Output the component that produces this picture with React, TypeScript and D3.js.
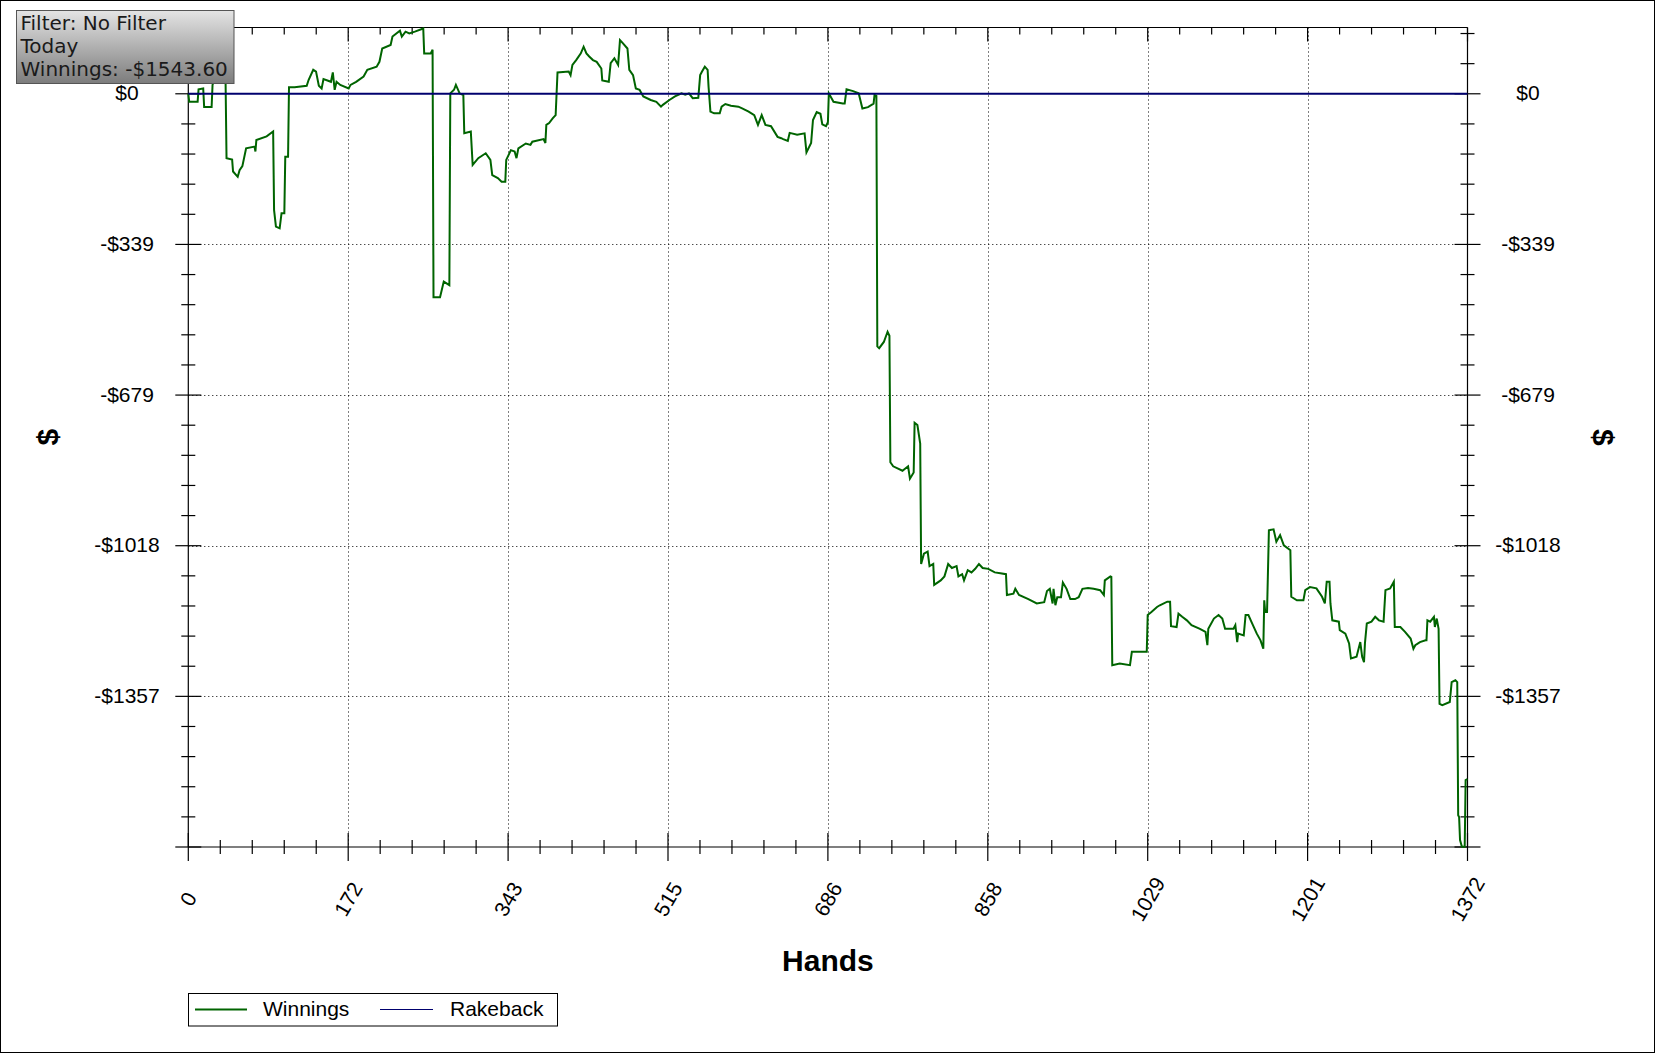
import React from "react";
import * as d3 from "d3";

// ---- data (hand index, cumulative winnings $) ----
const hands: number[] = [
  0, 1, 10, 11, 16, 17, 25, 26, 28, 38, 40, 41, 47, 48, 53, 55, 58, 62, 71, 72, 73, 84, 91, 92, 94, 98, 100, 103, 104, 107,
  108, 114, 127, 129, 134, 137, 140, 143, 145, 153, 155, 157, 159, 163, 172, 174, 180, 188, 192, 202, 205, 208, 217, 219, 227, 229, 233, 237, 243, 252,
  253, 260, 262, 263, 270, 274, 280, 281, 285, 287, 291, 295, 296, 303, 305, 311, 319, 324, 326, 332, 336, 340, 341, 346, 350, 352, 354, 362, 367, 369,
  381, 383, 384, 387, 391, 394, 396, 408, 410, 412, 416, 421, 424, 427, 430, 434, 438, 443, 444, 451, 453, 457, 461, 463, 466, 471, 473, 477, 480, 484,
  488, 496, 502, 507, 509, 516, 522, 529, 533, 537, 541, 547, 549, 551, 554, 557, 558, 560, 564, 570, 572, 576, 582, 590, 594, 601, 607, 611, 615, 619,
  625, 632, 636, 638, 643, 645, 653, 661, 663, 668, 670, 674, 678, 680, 684, 686, 687, 692, 702, 704, 706, 713, 719, 723, 729, 735, 736, 738, 739, 741,
  746, 750, 752, 753, 756, 766, 772, 774, 778, 779, 782, 785, 786, 789, 793, 795, 799, 800, 807, 811, 815, 819, 824, 826, 830, 832, 836, 840, 844, 848,
  852, 858, 865, 871, 877, 878, 885, 887, 891, 901, 910, 918, 921, 924, 927, 928, 930, 932, 936, 938, 942, 946, 951, 955, 959, 965, 971, 978, 982, 983,
  989, 990, 991, 999, 1010, 1012, 1028, 1029, 1033, 1039, 1042, 1050, 1053, 1054, 1060, 1062, 1066, 1071, 1076, 1085, 1091, 1093, 1094, 1100, 1105, 1109, 1112, 1121, 1123, 1125,
  1126, 1132, 1134, 1137, 1141, 1146, 1150, 1153, 1154, 1155, 1157, 1159, 1164, 1167, 1171, 1175, 1182, 1183, 1189, 1196, 1198, 1203, 1210, 1216, 1219, 1221, 1224, 1225, 1227, 1234,
  1235, 1241, 1245, 1247, 1253, 1257, 1259, 1261, 1262, 1264, 1269, 1273, 1277, 1282, 1284, 1289, 1293, 1294, 1300, 1305, 1311, 1314, 1316, 1321, 1327, 1328, 1329, 1332, 1336, 1337,
  1339, 1341, 1342, 1345, 1353, 1355, 1359, 1361, 1362, 1363, 1364, 1366, 1369, 1370, 1372,
];

const winnings: number[] = [
  0, -18, -18, 10, 12, -30, -30, 20, 33, 30, 24, -145, -148, -175, -187, -172, -163, -123, -119, -130, -104, -96, -85, -262, -299, -303, -269, -269, -142, -142,
  15, 15, 18, 31, 54, 50, 18, 12, 33, 27, 48, 9, 27, 20, 12, 20, 27, 39, 54, 61, 72, 102, 110, 129, 142, 129, 140, 136, 140, 147,
  91, 91, 99, -458, -458, -423, -431, 1, 9, 20, 1, -3, -89, -85, -160, -145, -134, -149, -183, -190, -198, -198, -149, -127, -130, -145, -123, -112, -115, -108,
  -102, -111, -70, -66, -55, -48, 48, 50, 42, 65, 76, 91, 106, 91, 84, 76, 72, 57, 30, 27, 69, 80, 65, 121, 114, 102, 54, 42, 12, 9,
  -6, -14, -18, -29, -25, -14, -6, 1, -2, 1, -10, -9, 42, 50, 61, 54, 16, -40, -44, -44, -29, -23, -27, -29, -33, -40, -48, -70, -48, -70,
  -73, -97, -100, -102, -106, -88, -92, -89, -132, -111, -59, -41, -45, -69, -73, -64, 1, -18, -22, -22, 10, 6, 1, -33, -30, -22, -3, -5, -569, -573,
  -559, -536, -545, -830, -839, -849, -839, -867, -853, -741, -746, -788, -1059, -1036, -1031, -1064, -1059, -1106, -1096, -1087, -1059, -1068, -1064, -1087, -1082, -1096, -1073, -1078, -1070, -1059,
  -1068, -1070, -1078, -1080, -1082, -1129, -1126, -1115, -1129, -1138, -1148, -1145, -1120, -1115, -1148, -1115, -1152, -1134, -1134, -1101, -1115, -1138, -1138, -1134, -1115, -1113, -1115, -1118, -1129, -1096,
  -1087, -1088, -1287, -1283, -1287, -1257, -1257, -1174, -1167, -1156, -1152, -1144, -1144, -1199, -1201, -1171, -1178, -1186, -1197, -1205, -1212, -1242, -1205, -1182, -1174, -1182, -1205, -1205, -1197, -1235,
  -1216, -1220, -1174, -1174, -1193, -1216, -1231, -1250, -1141, -1167, -1167, -983, -981, -1009, -994, -1017, -1028, -1133, -1141, -1141, -1118, -1111, -1114, -1133, -1148, -1099, -1099, -1148, -1186, -1189,
  -1208, -1216, -1238, -1272, -1268, -1235, -1268, -1280, -1238, -1193, -1189, -1178, -1186, -1189, -1118, -1114, -1099, -1201, -1201, -1212, -1227, -1250, -1242, -1235, -1231, -1231, -1186, -1189, -1178, -1201,
  -1182, -1205, -1374, -1377, -1370, -1325, -1321, -1325, -1625, -1629, -1681, -1696, -1696, -1546, -1543.6,
];

const rakebackHands: number[] = [0, 1372];
const rakebackValues: number[] = [0, 0];

const xTickValues: number[] = [0, 171.5, 343, 514.5, 686, 857.5, 1029, 1200.5, 1372];
const yTickValues: number[] = [0, -339.3, -678.6, -1017.9, -1357.2];
const infoLines: string[] = ["Filter: No Filter", "Today", "Winnings: -$1543.60"];
const legendNames: string[] = ["Winnings", "Rakeback"];

const W = 1655;
const H = 1053;
const PL = 188.3;
const PR = 1467.5;
const PT = 27.5;
const PB = 847;
const Y_MIN = -1696.5;
const Y_MAX = 149.3;

const GREEN = "#006400";
const NAVY = "#00006e";
const SANS = "'Liberation Sans', Arial, sans-serif";

export default function App() {
  const x = d3.scaleLinear().domain([0, 1372]).range([PL, PR]);
  const y = d3.scaleLinear().domain([Y_MIN, Y_MAX]).range([PB, PT]);

  const winData = hands.map((h, i) => [h, winnings[i]] as [number, number]);
  const rbData = rakebackHands.map((h, i) => [h, rakebackValues[i]] as [number, number]);
  const line = d3
    .line<[number, number]>()
    .x((d) => x(d[0]))
    .y((d) => y(d[1]));

  const xStep = 171.5;
  const xMinor: number[] = d3.range(0, 1372 + 0.01, xStep / 5);
  const yStep = 339.3;
  const yMinor: number[] = [];
  for (let v = Y_MIN; v <= Y_MAX + 0.01; v += yStep / 5) yMinor.push(v);

  const isMajorX = (v: number) => Math.abs(v / xStep - Math.round(v / xStep)) < 1e-6;
  const isMajorY = (v: number) => Math.abs((v - Y_MIN) / yStep - Math.round((v - Y_MIN) / yStep)) < 1e-6;

  const fmtY = (v: number) => (v < -0.5 ? "-$" : "$") + Math.round(Math.abs(v));

  return (
    <svg
      width={W}
      height={H}
      style={{ position: "absolute", left: 0, top: 0, background: "#fff" }}
    >
      <defs>
        <linearGradient id="boxGrad" x1="0" y1="0" x2="0" y2="1">
          <stop offset="0" stopColor="#e4e4e4" />
          <stop offset="1" stopColor="#7c7c7c" />
        </linearGradient>
      </defs>
      <rect x={0} y={0} width={W} height={H} fill="#fff" />
      <rect x={0.5} y={0.5} width={W - 1} height={H - 1} fill="none" stroke="#000" strokeWidth={1} />

      {/* grid */}
      <g stroke="#000" strokeWidth={1} strokeDasharray="1,3">
        {xTickValues.slice(1, -1).map((v, i) => (
          <line key={"gx" + i} x1={Math.round(x(v)) + 0.5} x2={Math.round(x(v)) + 0.5} y1={PT} y2={PB} />
        ))}
        {yTickValues.slice(1).map((v, i) => (
          <line key={"gy" + i} x1={PL} x2={PR} y1={Math.round(y(v)) + 0.5} y2={Math.round(y(v)) + 0.5} />
        ))}
      </g>

      {/* axes frame */}
      <g stroke="#000" strokeWidth={1.2} fill="none">
        <line x1={PL} x2={PR} y1={PB} y2={PB} />
        <line x1={PL} x2={PR} y1={PT} y2={PT} />
        <line x1={PL} x2={PL} y1={PT} y2={PB} />
        <line x1={PR} x2={PR} y1={PT} y2={PB} />
      </g>

      {/* ticks */}
      <g stroke="#000" strokeWidth={1.2}>
        {xMinor.map((v, i) => {
          const major = isMajorX(v);
          const px = x(v);
          const len = major ? 14 : 7;
          return (
            <g key={"xt" + i}>
              <line x1={px} x2={px} y1={PB - len} y2={PB + len} />
              <line x1={px} x2={px} y1={PT} y2={PT + len} />
            </g>
          );
        })}
        {yMinor.map((v, i) => {
          const major = isMajorY(v);
          const py = y(v);
          const len = major ? 13 : 7;
          return (
            <g key={"yt" + i}>
              <line x1={PL - len} x2={PL + len} y1={py} y2={py} />
              <line x1={PR - len} x2={PR + len} y1={py} y2={py} />
            </g>
          );
        })}
      </g>

      {/* series */}
      <path d={line(winData) || ""} fill="none" stroke={GREEN} strokeWidth={2} strokeLinejoin="miter" />
      <path d={line(rbData) || ""} fill="none" stroke={NAVY} strokeWidth={2} />

      {/* y labels */}
      <g fontFamily={SANS} fontSize={21} fill="#000" textAnchor="middle">
        {yTickValues.map((v, i) => (
          <g key={"yl" + i}>
            <text x={127} y={y(v) - 1} dominantBaseline="central">
              {fmtY(v)}
            </text>
            <text x={1528} y={y(v) - 1} dominantBaseline="central">
              {fmtY(v)}
            </text>
          </g>
        ))}
      </g>

      {/* x labels */}
      <g fontFamily={SANS} fontSize={21} fill="#000" textAnchor="middle">
        {xTickValues.map((v, i) => (
          <text
            key={"xl" + i}
            transform={`translate(${x(v)},${899}) rotate(-60)`}
            dominantBaseline="central"
          >
            {Math.round(v)}
          </text>
        ))}
      </g>

      {/* axis titles */}
      <text x={(PL + PR) / 2} y={971} textAnchor="middle" fontFamily={SANS} fontWeight="bold" fontSize={30}>
        Hands
      </text>
      <text
        transform={`translate(47,${(PT + PB) / 2}) rotate(-90)`}
        textAnchor="middle"
        dominantBaseline="central"
        fontFamily={SANS}
        fontWeight="bold"
        fontSize={30}
      >
        $
      </text>
      <text
        transform={`translate(1603,${(PT + PB) / 2}) rotate(90)`}
        textAnchor="middle"
        dominantBaseline="central"
        fontFamily={SANS}
        fontWeight="bold"
        fontSize={30}
      >
        $
      </text>

      {/* info box */}
      <rect x={16.5} y={10.5} width={217.5} height={73} fill="url(#boxGrad)" stroke="#555" strokeWidth={1} />
      <g fontFamily="'DejaVu Sans', Verdana, sans-serif" fontSize={20} fill="#1a1a1a">
        {infoLines.map((t, i) => (
          <text key={"il" + i} x={20.5} y={30 + i * 23}>
            {t}
          </text>
        ))}
      </g>

      {/* legend */}
      <rect x={188.5} y={993.5} width={369} height={32.5} fill="#fff" stroke="#000" strokeWidth={1} />
      <line x1={195} x2={247} y1={1009.5} y2={1009.5} stroke={GREEN} strokeWidth={2} />
      <line x1={380} x2={433} y1={1009.5} y2={1009.5} stroke={NAVY} strokeWidth={1.2} />
      <g fontFamily={SANS} fontSize={21} fill="#000">
        <text x={263} y={1016}>
          {legendNames[0]}
        </text>
        <text x={450} y={1016}>
          {legendNames[1]}
        </text>
      </g>
    </svg>
  );
}
